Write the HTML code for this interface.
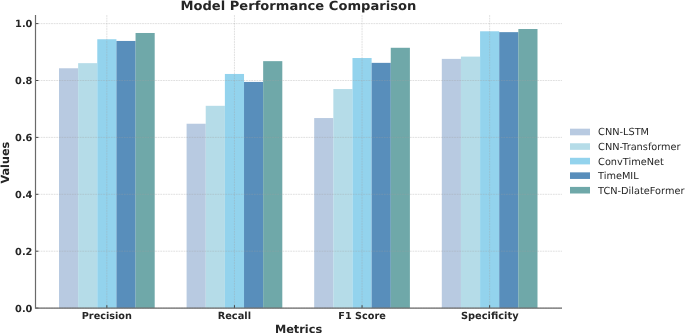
<!DOCTYPE html>
<html lang="en">
<head>
<meta charset="utf-8">
<title>Model Performance Comparison</title>
<style>
html,body{margin:0;padding:0;background:#fff;}
body{width:685px;height:333px;overflow:hidden;}
svg{display:block;}
text{font-family:"DejaVu Sans","Liberation Sans",sans-serif;fill:#262626;text-rendering:geometricPrecision;}
.b{font-weight:bold;}
</style>
</head>
<body>
<svg width="685" height="333" viewBox="0 0 685 333">
<rect x="0" y="0" width="685" height="333" fill="#ffffff"/>
<g shape-rendering="auto">
<rect x="59.00" y="68.27" width="19.14" height="239.83" fill="#B0C4DE" fill-opacity="0.9"/>
<rect x="186.60" y="123.74" width="19.14" height="184.36" fill="#B0C4DE" fill-opacity="0.9"/>
<rect x="314.20" y="118.05" width="19.14" height="190.05" fill="#B0C4DE" fill-opacity="0.9"/>
<rect x="441.80" y="58.88" width="19.14" height="249.22" fill="#B0C4DE" fill-opacity="0.9"/>
<rect x="78.14" y="63.15" width="19.14" height="244.95" fill="#ADD8E6" fill-opacity="0.9"/>
<rect x="205.74" y="105.82" width="19.14" height="202.28" fill="#ADD8E6" fill-opacity="0.9"/>
<rect x="333.34" y="89.04" width="19.14" height="219.06" fill="#ADD8E6" fill-opacity="0.9"/>
<rect x="460.94" y="56.60" width="19.14" height="251.50" fill="#ADD8E6" fill-opacity="0.9"/>
<rect x="97.28" y="39.25" width="19.14" height="268.85" fill="#87CEEB" fill-opacity="0.9"/>
<rect x="224.88" y="73.96" width="19.14" height="234.14" fill="#87CEEB" fill-opacity="0.9"/>
<rect x="352.48" y="58.02" width="19.14" height="250.08" fill="#87CEEB" fill-opacity="0.9"/>
<rect x="480.08" y="31.28" width="19.14" height="276.82" fill="#87CEEB" fill-opacity="0.9"/>
<rect x="116.42" y="40.95" width="19.14" height="267.15" fill="#4682B4" fill-opacity="0.9"/>
<rect x="244.02" y="81.92" width="19.14" height="226.18" fill="#4682B4" fill-opacity="0.9"/>
<rect x="371.62" y="62.86" width="19.14" height="245.24" fill="#4682B4" fill-opacity="0.9"/>
<rect x="499.22" y="32.14" width="19.14" height="275.96" fill="#4682B4" fill-opacity="0.9"/>
<rect x="135.56" y="32.99" width="19.14" height="275.11" fill="#5F9EA0" fill-opacity="0.9"/>
<rect x="263.16" y="61.15" width="19.14" height="246.95" fill="#5F9EA0" fill-opacity="0.9"/>
<rect x="390.76" y="47.78" width="19.14" height="260.32" fill="#5F9EA0" fill-opacity="0.9"/>
<rect x="518.36" y="29.01" width="19.14" height="279.09" fill="#5F9EA0" fill-opacity="0.9"/>
</g>
<g stroke="rgba(160,160,160,0.55)" stroke-width="0.6" stroke-dasharray="1.8,0.8" fill="none">
<line x1="106.85" y1="308.10" x2="106.85" y2="15.00"/>
<line x1="234.45" y1="308.10" x2="234.45" y2="15.00"/>
<line x1="362.05" y1="308.10" x2="362.05" y2="15.00"/>
<line x1="489.65" y1="308.10" x2="489.65" y2="15.00"/>
<line x1="35.50" y1="308.10" x2="562.00" y2="308.10"/>
<line x1="35.50" y1="251.20" x2="562.00" y2="251.20"/>
<line x1="35.50" y1="194.30" x2="562.00" y2="194.30"/>
<line x1="35.50" y1="137.40" x2="562.00" y2="137.40"/>
<line x1="35.50" y1="80.50" x2="562.00" y2="80.50"/>
<line x1="35.50" y1="23.60" x2="562.00" y2="23.60"/>
</g>
<g stroke="#333333" stroke-width="0.9" fill="none">
<line x1="106.85" y1="308.10" x2="106.85" y2="305.20"/>
<line x1="234.45" y1="308.10" x2="234.45" y2="305.20"/>
<line x1="362.05" y1="308.10" x2="362.05" y2="305.20"/>
<line x1="489.65" y1="308.10" x2="489.65" y2="305.20"/>
<line x1="35.50" y1="308.10" x2="38.40" y2="308.10"/>
<line x1="35.50" y1="251.20" x2="38.40" y2="251.20"/>
<line x1="35.50" y1="194.30" x2="38.40" y2="194.30"/>
<line x1="35.50" y1="137.40" x2="38.40" y2="137.40"/>
<line x1="35.50" y1="80.50" x2="38.40" y2="80.50"/>
<line x1="35.50" y1="23.60" x2="38.40" y2="23.60"/>
</g>
<path d="M35.50,15.00 L35.50,308.10 L562.00,308.10" stroke="#6a6a6a" stroke-width="1.2" fill="none" stroke-linejoin="miter"/>
<text class="b" transform="translate(298.35,9.75) scale(1,0.96)" font-size="13.1" text-anchor="middle">Model Performance Comparison</text>
<text class="b" x="32.45" y="311.85" font-size="9.8" text-anchor="end">0.0</text>
<text class="b" x="32.45" y="254.95" font-size="9.8" text-anchor="end">0.2</text>
<text class="b" x="32.45" y="198.05" font-size="9.8" text-anchor="end">0.4</text>
<text class="b" x="32.45" y="141.15" font-size="9.8" text-anchor="end">0.6</text>
<text class="b" x="32.45" y="84.25" font-size="9.8" text-anchor="end">0.8</text>
<text class="b" x="32.45" y="27.35" font-size="9.8" text-anchor="end">1.0</text>
<text class="b" x="106.85" y="318.5" font-size="9.7" text-anchor="middle">Precision</text>
<text class="b" x="234.35" y="318.5" font-size="9.8" text-anchor="middle">Recall</text>
<text class="b" x="362.05" y="318.5" font-size="9.7" text-anchor="middle">F1 Score</text>
<text class="b" x="489.75" y="318.5" font-size="9.85" text-anchor="middle">Specificity</text>
<text class="b" x="298.55" y="332.6" font-size="11.3" text-anchor="middle">Metrics</text>
<text class="b" transform="translate(9.05,162.65) rotate(-90)" font-size="11.25" text-anchor="middle">Values</text>
<rect x="570" y="128.70" width="20" height="6.6" fill="#B0C4DE" fill-opacity="0.9"/>
<text x="598.1" y="135.45" font-size="9.75">CNN-LSTM</text>
<rect x="570" y="143.25" width="20" height="6.6" fill="#ADD8E6" fill-opacity="0.9"/>
<text x="598.1" y="150.00" font-size="9.75">CNN-Transformer</text>
<rect x="570" y="157.80" width="20" height="6.6" fill="#87CEEB" fill-opacity="0.9"/>
<text x="598.1" y="164.55" font-size="9.75">ConvTimeNet</text>
<rect x="570" y="172.35" width="20" height="6.6" fill="#4682B4" fill-opacity="0.9"/>
<text x="598.1" y="179.10" font-size="9.75">TimeMIL</text>
<rect x="570" y="186.90" width="20" height="6.6" fill="#5F9EA0" fill-opacity="0.9"/>
<text x="598.1" y="193.65" font-size="9.75">TCN-DilateFormer</text>
</svg>
</body>
</html>
